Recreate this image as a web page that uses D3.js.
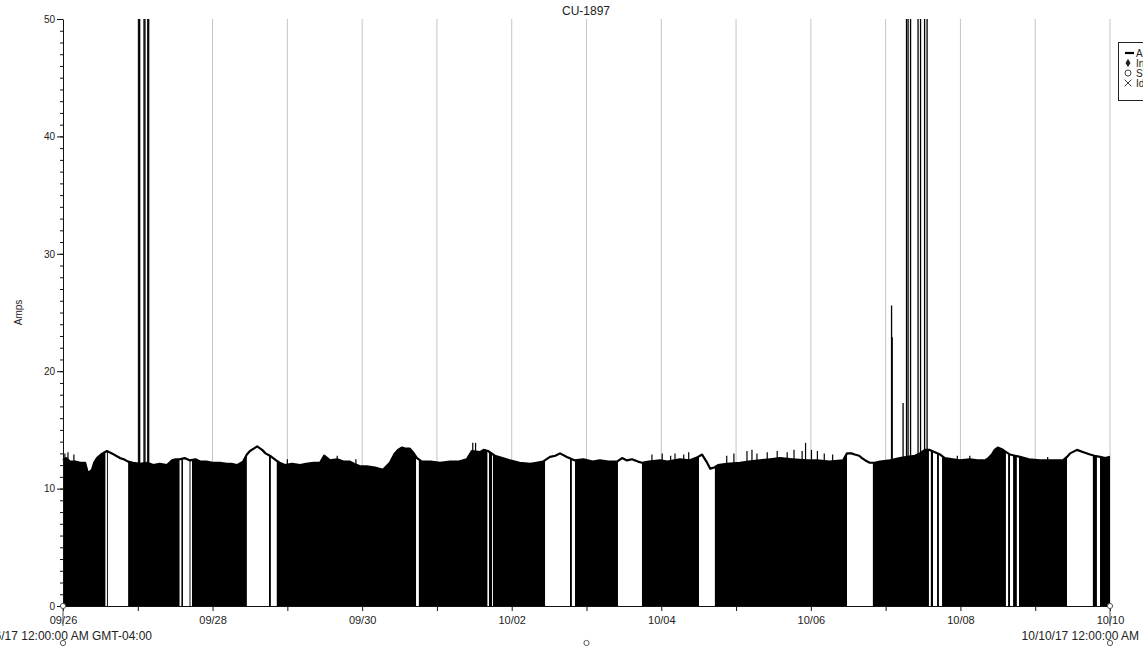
<!DOCTYPE html>
<html>
<head>
<meta charset="utf-8">
<script src="https://cdn.jsdelivr.net/npm/d3@7/dist/d3.min.js"></script>
<style>
  html, body { margin: 0; padding: 0; background: #fff; }
  svg { display: block; font-family: Arial, "Liberation Sans", sans-serif; }
</style>
</head>
<body>
<svg id="chart" width="1143" height="647"></svg>
<script>
// CU-1897 current draw, 09/26/17 – 10/10/17, time in hours from 09/26 00:00
const title = "CU-1897";
const yLabel = "Amps";

// upper envelope of the current trace (hours, amps)
const envHours = [0, 1.0, 2.2, 4.0, 5.5, 7.1, 8.0, 9.3, 10.0, 10.9, 12.2, 14.1, 15.7, 17.0, 18.3, 19.5, 20.9,
  22.5, 24.7, 27.0, 29.0, 31.0, 33.4, 35.0, 36.2, 37.5, 39.0, 40.8, 42.5, 44.0, 46.0, 48.0, 50.4, 52.5,
  54.0, 55.8, 57.8, 59.0, 60.0, 61.2, 62.3, 63.9, 65.0, 66.4, 68.4, 69.5, 71.2, 73.5, 76.1, 78.0, 80.5,
  82.5, 83.8, 85.7, 88.0, 90.0, 92.1, 93.5, 95.3, 97.5, 100.1, 102.7, 104.9, 106.5, 107.5, 108.8, 110.0,
  111.3, 112.3, 113.6, 115.2, 118.0, 121.0, 124.2, 127.0, 129.6, 131.2, 133.8, 135.0, 136.4, 138.6, 141.0,
  143.4, 146.5, 149.9, 152.0, 154.0, 156.3, 158.0, 159.5, 161.7, 164.3, 167.0, 170.0, 172.3, 175.0, 177.8,
  179.4, 181.0, 182.6, 184.5, 185.8, 188.0, 191.6, 194.0, 198.0, 201.0, 203.8, 205.1, 206.5, 207.7, 209.0,
  210.2, 213.0, 217.3, 220.0, 223.7, 227.0, 230.1, 234.0, 238.7, 242.0, 246.0, 250.3, 251.6, 253.0, 254.1,
  255.5, 256.4, 257.5, 258.9, 260.5, 262.2, 265.4, 268.6, 271.0, 273.4, 275.0, 276.6, 278.0, 279.8, 281.5,
  283.0, 285.5, 287.8, 291.0, 293.5, 295.9, 297.0, 298.1, 299.0, 300.0, 301.6, 303.9, 305.5, 307.1, 310.0,
  313.5, 317.0, 320.9, 322.2, 323.2, 325.4, 327.5, 329.6, 331.0, 332.8, 334.5, 336.0];
const envAmps = [12.4, 12.6, 12.3, 12.3, 12.2, 12.2, 11.3, 11.6, 12.2, 12.6, 12.9, 13.2, 13.0, 12.8, 12.6, 12.5, 12.3,
  12.2, 12.1, 12.2, 12.0, 12.1, 12.0, 12.4, 12.5, 12.5, 12.6, 12.4, 12.5, 12.3, 12.3, 12.2, 12.2, 12.1,
  12.1, 12.0, 12.3, 12.9, 13.2, 13.4, 13.6, 13.3, 13.0, 12.8, 12.4, 12.2, 12.0, 12.1, 12.0, 12.1, 12.2,
  12.2, 12.8, 12.4, 12.5, 12.3, 12.3, 12.1, 11.9, 11.9, 11.8, 11.6, 12.2, 13.0, 13.3, 13.5, 13.4,
  13.4, 13.1, 12.6, 12.3, 12.3, 12.2, 12.3, 12.3, 12.5, 13.2, 13.1, 13.3, 13.2, 12.8, 12.6,
  12.4, 12.2, 12.1, 12.2, 12.3, 12.7, 12.8, 13.0, 12.7, 12.4, 12.5, 12.3, 12.4, 12.3, 12.3,
  12.6, 12.4, 12.5, 12.3, 12.2, 12.3, 12.4, 12.3, 12.5, 12.4, 12.7, 12.9, 12.3, 11.7, 11.8,
  12.0, 12.1, 12.2, 12.3, 12.4, 12.5, 12.6, 12.5, 12.4, 12.4, 12.3, 12.4, 13.0, 13.0, 12.9,
  12.8, 12.6, 12.4, 12.2, 12.2, 12.3, 12.4, 12.6, 12.7, 12.8, 13.0, 13.3, 13.3, 13.1, 12.9,
  12.6, 12.5, 12.4, 12.5, 12.4, 12.4, 12.6, 12.9, 13.3, 13.5, 13.3, 12.9, 12.8, 12.7, 12.5,
  12.4, 12.4, 12.4, 12.7, 13.0, 13.3, 13.1, 12.9, 12.8, 12.7, 12.6, 12.7];

// short peaks riding on the envelope (hours, amps)
const peakHours = [0.6, 1.6, 3.5, 72.0, 88.0, 94.0, 131.5, 132.4, 189.0, 192.3, 195.0, 196.4, 199.2, 200.8,
  213.0, 215.3, 219.5, 221.1, 222.7, 226.0, 229.2, 232.4, 234.6, 237.2, 238.3, 240.2, 242.1, 244.3, 247.0,
  287.0, 291.0, 316.0];
const peakAmps = [13.0, 13.1, 12.9, 12.5, 12.8, 12.5, 13.9, 13.9, 12.9, 13.0, 12.8, 13.0, 12.9, 13.1,
  12.8, 13.0, 13.2, 13.3, 13.0, 13.1, 13.2, 13.1, 13.3, 13.2, 13.9, 13.3, 13.2, 13.0, 12.9,
  12.8, 12.8, 12.7];

// inrush spikes (hours, amps); values above 50 run off the scale
const spikeHours = [24.3, 24.6, 26.0, 26.3, 27.2, 27.5, 265.9, 266.1, 269.6, 270.7, 271.2, 272.0, 274.4, 275.2, 276.5, 277.3];
const spikeAmps = [60, 60, 60, 60, 60, 60, 25.6, 22.9, 17.3, 60, 60, 60, 60, 60, 60, 60];

// steady-run periods (no cycling to zero), start/end hours
const steadyStart = [13.6, 14.4, 37.4, 38.5, 40.9, 59.0, 66.7, 113.3, 136.2, 137.7, 154.7, 163.3, 178.1,
  204.1, 251.6, 277.9, 279.2, 281.1, 302.6, 303.9, 306.1, 322.2, 331.8];
const steadyEnd = [14.1, 20.9, 38.0, 40.6, 41.4, 66.1, 68.6, 114.2, 136.7, 138.0, 162.7, 164.3, 185.8,
  209.2, 259.9, 278.5, 280.5, 282.1, 303.3, 304.9, 306.8, 330.5, 332.8];

const xTickLabels = ["09/26", "09/28", "09/30", "10/02", "10/04", "10/06", "10/08", "10/10"];
const rangeStartLabel = "09/26/17 12:00:00 AM GMT-04:00";
const rangeEndLabel = "10/10/17 12:00:00 AM";
const legendLabels = ["Amps", "Inrush", "Start", "Idle"];

const W = 1143, H = 647;
const margin = { top: 19, right: 33, bottom: 41, left: 63 };
const t0 = new Date(2017, 8, 26);
const t1 = new Date(2017, 9, 10);
const at = h => new Date(t0.getTime() + h * 3600e3);

const svg = d3.select("#chart");
const x = d3.scaleTime().domain([t0, t1]).range([margin.left, W - margin.right]);
const y = d3.scaleLinear().domain([0, 50]).range([H - margin.bottom, margin.top]);

const env = envHours.map((h, i) => ({ t: at(h), v: envAmps[i] }));

// day grid
const days = d3.timeDay.range(d3.timeDay.offset(t0, 1), d3.timeDay.offset(t1, 1));
svg.append("g").selectAll("line").data(days).join("line")
  .attr("x1", d => x(d)).attr("x2", d => x(d))
  .attr("y1", y(50)).attr("y2", y(0))
  .attr("stroke", "#c4c4c4").attr("stroke-width", 1);

// clip for the filled (cycling) portions: whole span minus steady-run periods
const cycling = [];
let cur = 0;
steadyStart.forEach((s, i) => { cycling.push([cur, s]); cur = steadyEnd[i]; });
cycling.push([cur, 336]);
const defs = svg.append("defs");
defs.append("clipPath").attr("id", "cyc").selectAll("rect").data(cycling).join("rect")
  .attr("x", d => x(at(d[0]))).attr("width", d => Math.max(0, x(at(d[1])) - x(at(d[0]))))
  .attr("y", 0).attr("height", H);
defs.append("clipPath").attr("id", "plot").append("rect")
  .attr("x", margin.left).attr("y", y(50)).attr("width", W - margin.right - margin.left).attr("height", y(0) - y(50));

const area = d3.area().x(d => x(d.t)).y0(y(0)).y1(d => y(d.v));
svg.append("path").datum(env).attr("d", area).attr("fill", "#000").attr("clip-path", "url(#cyc)");

// peaks above the envelope
svg.append("g").selectAll("line").data(peakHours).join("line")
  .attr("x1", h => x(at(h))).attr("x2", h => x(at(h)))
  .attr("y1", y(12)).attr("y2", (h, i) => y(peakAmps[i]))
  .attr("stroke", "#000").attr("stroke-width", 1.2);

// envelope line
const line = d3.line().x(d => x(d.t)).y(d => y(d.v));
svg.append("path").datum(env).attr("d", line).attr("fill", "none")
  .attr("stroke", "#000").attr("stroke-width", 2.2).attr("stroke-linejoin", "round");

// inrush spikes
svg.append("g").attr("clip-path", "url(#plot)").selectAll("line").data(spikeHours).join("line")
  .attr("x1", h => x(at(h))).attr("x2", h => x(at(h)))
  .attr("y1", y(0)).attr("y2", (h, i) => y(spikeAmps[i]))
  .attr("stroke", "#000").attr("stroke-width", 1.3);

// y axis
const yMinor = svg.append("g").attr("transform", `translate(${margin.left},0)`)
  .call(d3.axisLeft(y).ticks(50).tickSize(3).tickFormat(""));
yMinor.select(".domain").remove();
yMinor.selectAll("line").attr("stroke", "#111");
const yAxis = svg.append("g").attr("transform", `translate(${margin.left},0)`)
  .call(d3.axisLeft(y).tickValues([0, 10, 20, 30, 40, 50]).tickSize(6).tickSizeOuter(0).tickPadding(2));
yAxis.select(".domain").attr("stroke", "#111");
yAxis.selectAll("line").attr("stroke", "#111");
yAxis.selectAll("text").attr("font-size", 10).attr("fill", "#222")
  .attr("font-family", "Arial, 'Liberation Sans', sans-serif");

// x axis
const xAxis = svg.append("g").attr("transform", `translate(0,${y(0)})`)
  .call(d3.axisBottom(x).ticks(d3.timeDay.every(1)).tickSize(5).tickSizeOuter(0).tickPadding(5)
    .tickFormat((d, i) => i % 2 === 0 ? xTickLabels[i / 2] : ""));
xAxis.select(".domain").attr("stroke", "#111");
xAxis.selectAll("line").attr("stroke", "#111");
xAxis.selectAll("text").attr("font-size", 11).attr("fill", "#222")
  .attr("font-family", "Arial, 'Liberation Sans', sans-serif");

// range labels under the axis
svg.append("text").attr("x", 152).attr("y", 639.5).attr("text-anchor", "end")
  .attr("font-size", 12).attr("fill", "#222").text(rangeStartLabel);
svg.append("text").attr("x", 1139).attr("y", 639.5).attr("text-anchor", "end")
  .attr("font-size", 12).attr("fill", "#222").text(rangeEndLabel);

// range handles
const handles = [[x(t0), y(0)], [x(t1), y(0)], [x(t0), 643], [x(t1), 643], [(x(t0) + x(t1)) / 2, 643]];
svg.append("g").selectAll("line").data([x(t0), x(t1)]).join("line")
  .attr("x1", d => d).attr("x2", d => d).attr("y1", y(0)).attr("y2", 626)
  .attr("stroke", "#555").attr("stroke-width", 1);
svg.append("g").selectAll("circle").data(handles).join("circle")
  .attr("cx", d => d[0]).attr("cy", d => d[1]).attr("r", 2.6)
  .attr("fill", "#fff").attr("stroke", "#555").attr("stroke-width", 1);

// title and y label
svg.append("text").attr("x", 586).attr("y", 15).attr("text-anchor", "middle")
  .attr("font-size", 12).attr("fill", "#222").text(title);
svg.append("text").attr("transform", `translate(22,${(y(0) + y(50)) / 2}) rotate(-90)`)
  .attr("text-anchor", "middle").attr("font-size", 10).attr("fill", "#222").text(yLabel);

// legend
const lg = svg.append("g").attr("transform", "translate(1118,42)");
lg.append("rect").attr("x", 0.5).attr("y", 0.5).attr("width", 60).attr("height", 58)
  .attr("fill", "#fff").attr("stroke", "#222").attr("stroke-width", 1);
const rows = [11, 21, 31, 41];
lg.append("line").attr("x1", 7).attr("x2", 16).attr("y1", rows[0]).attr("y2", rows[0])
  .attr("stroke", "#000").attr("stroke-width", 2.2);
lg.append("path").attr("d", d3.symbol(d3.symbolDiamond, 22)()).attr("transform", `translate(10,${rows[1]})`).attr("fill", "#222");
lg.append("circle").attr("cx", 10).attr("cy", rows[2]).attr("r", 3).attr("fill", "none").attr("stroke", "#444");
lg.append("path").attr("d", d3.symbol(d3.symbolTimes, 30)()).attr("transform", `translate(10,${rows[3]})`)
  .attr("fill", "none").attr("stroke", "#444").attr("stroke-width", 1);
lg.selectAll("text").data(legendLabels).join("text")
  .attr("x", 18).attr("y", (d, i) => rows[i] + 4).attr("font-size", 10).attr("fill", "#222").text(d => d);
</script>
</body>
</html>
